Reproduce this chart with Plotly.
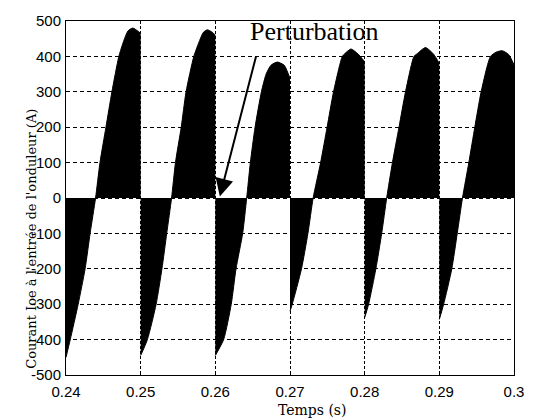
import plotly.graph_objects as go

# ---- data ----
cycle_starts = [0.24, 0.25, 0.26, 0.27, 0.28, 0.29]   # s

# per-cycle envelope: time offset from cycle start (ms) and current (A)
c1_ms = [0, 0.57, 1.63, 2.56, 3.23, 3.96, 4.55, 5.35, 6.15, 7.08, 7.75, 8.3, 8.94, 9.6, 10]
c1_A  = [-450, -400, -300, -200, -100, 0, 100, 200, 300, 400, 445, 472, 480, 472, 465]

c2_ms = [0, 0.9, 2.07, 2.85, 3.49, 4.14, 4.66, 5.43, 6.08, 7.12, 7.9, 8.4, 8.93, 9.6, 10]
c2_A  = [-445, -400, -300, -200, -100, 0, 100, 200, 300, 400, 445, 468, 475, 468, 460]

c3_ms = [0, 1.11, 2.13, 2.77, 3.66, 4.2, 4.69, 5.32, 6.17, 6.8, 7.45, 8.3, 9.23, 9.57, 10]
c3_A  = [-445, -400, -300, -200, -100, 0, 100, 200, 300, 350, 375, 384, 375, 361, 338]

c4_ms = [0, 0.3, 1.54, 2.4, 3.1, 4.1, 4.97, 5.83, 7.0, 7.3, 8.16, 9.1, 10]
c4_A  = [-320, -300, -200, -100, 0, 100, 200, 300, 400, 407, 421, 407, 385]

c5_ms = [0, 0.53, 1.5, 2.28, 2.95, 3.72, 4.6, 5.47, 6.6, 7.0, 8.15, 9.2, 10]
c5_A  = [-338, -300, -200, -100, 0, 100, 200, 300, 400, 407, 425, 407, 380]

c6_ms = [0, 0.58, 1.67, 2.4, 3.1, 3.95, 4.75, 5.6, 6.85, 7.6, 8.43, 9.3, 10]
c6_A  = [-343, -300, -200, -100, 0, 100, 200, 300, 400, 412, 416, 405, 376]

cycles_ms = [c1_ms, c2_ms, c3_ms, c4_ms, c5_ms, c6_ms]
cycles_A = [c1_A, c2_A, c3_A, c4_A, c5_A, c6_A]

x_tickvals = [0.24, 0.25, 0.26, 0.27, 0.28, 0.29, 0.3]
x_ticktext = ["0.24", "0.25", "0.26", "0.27", "0.28", "0.29", "0.3"]
y_tickvals = [500, 400, 300, 200, 100, 0, -100, -200, -300, -400, -500]
y_ticktext = ["500", "400", "300", "200", "100", "0", "-100", "-200", "-300", "-400", "-500"]

# arrow (data coords): tip and tail
arrow_tip = (0.2606, 4)
arrow_tail = (0.2655, 404)

fig = go.Figure()
for t0, ms, amps in zip(cycle_starts, cycles_ms, cycles_A):
    fig.add_trace(go.Scatter(
        x=[t0 + m / 1000.0 for m in ms], y=amps,
        mode="lines", line=dict(color="black", width=1, shape="spline", smoothing=0.6),
        fill="tozeroy", fillcolor="black", hoverinfo="skip", showlegend=False))

fig.update_layout(
    width=536, height=419,
    margin=dict(l=66, r=13, t=13, b=44),
    paper_bgcolor="white", plot_bgcolor="white",
    showlegend=False,
)
fig.update_xaxes(
    range=[0.24, 0.3], tickvals=x_tickvals, ticktext=x_ticktext,
    showline=True, linecolor="black", linewidth=1, mirror=True,
    ticks="inside", ticklen=4, tickcolor="black",
    showgrid=True, gridcolor="black", gridwidth=1, griddash="3px,2px",
    zeroline=False, ticklabelstandoff=3,
    tickfont=dict(family="Liberation Sans", size=15, color="black"),
)
fig.update_yaxes(
    range=[-500, 500], tickvals=y_tickvals, ticktext=y_ticktext,
    showline=True, linecolor="black", linewidth=1, mirror=True,
    ticks="inside", ticklen=4, tickcolor="black",
    showgrid=True, gridcolor="black", gridwidth=1, griddash="4px,3px",
    zeroline=False, ticklabelstandoff=1,
    tickfont=dict(family="Liberation Sans", size=15, color="black"),
)

fig.add_annotation(
    x=arrow_tip[0], y=arrow_tip[1], ax=arrow_tail[0], ay=arrow_tail[1],
    xref="x", yref="y", axref="x", ayref="y", text="",
    showarrow=True, arrowhead=2, arrowsize=1.8, arrowwidth=2, arrowcolor="black",
    standoff=0, startstandoff=0)

fig.add_annotation(
    x=(320 - 66) / 457, y=1 - (24 - 13) / 362, xref="paper", yref="paper",
    text="Perturbation", showarrow=False, xanchor="center", yanchor="middle",
    font=dict(family="Liberation Serif", size=26, color="black"))

fig.add_annotation(
    x=(317 - 66) / 457, y=-(411 - 375) / 362, xref="paper", yref="paper",
    text="Temps (s)", showarrow=False, xanchor="center", yanchor="middle",
    font=dict(family="DejaVu Serif", size=14, color="black"))

fig.add_annotation(
    x=(30 - 66) / 457, y=(375 - 236) / 362, xref="paper", yref="paper",
    text="Courant Ioe à l'entrée de l'onduleur (A)", showarrow=False, textangle=-90,
    xanchor="center", yanchor="middle",
    font=dict(family="DejaVu Serif", size=13, color="black"))

fig.write_html("out.html")
